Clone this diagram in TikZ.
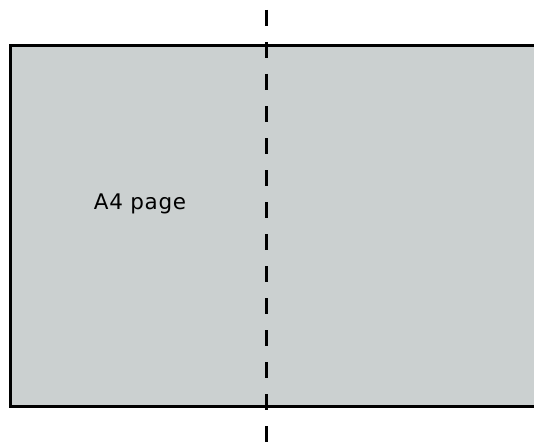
\documentclass[tikz,border=0pt]{standalone}
\usepackage{fontspec}
\setmainfont{DejaVu Sans}[LetterSpace=3]
\definecolor{pagegray}{RGB}{203,208,208}
\begin{document}
\begin{tikzpicture}[x=1pt,y=-1pt]
\useasboundingbox (0,0) rectangle (534,441);
\clip (0,0) rectangle (534,441);
\draw[line width=3pt, fill=pagegray] (10,45.5) rectangle (545,406.5);
\node[anchor=base, font=\fontsize{21.5}{24}\selectfont, inner sep=0pt] (lbl) at (140,209.5){A4 page};
\coordinate (fold0) at (266.5,10);
\coordinate (fold1) at (266.5,445);
\draw[line width=3pt, dash pattern=on 16pt off 16pt](fold0) -- (fold1);
\end{tikzpicture}
\end{document}
